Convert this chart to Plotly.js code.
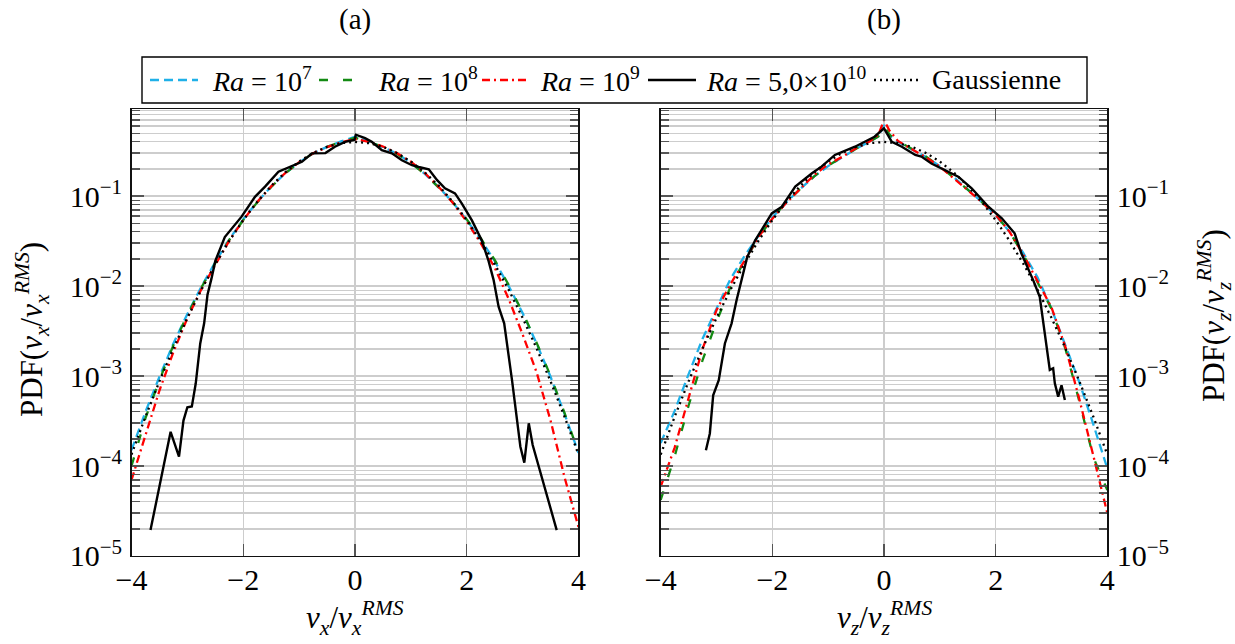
<!DOCTYPE html>
<html>
<head>
<meta charset="utf-8">
<script src="https://cdn.plot.ly/plotly-3.0.1.min.js"></script>
<style>html,body{margin:0;padding:0;background:#fff;} #chart{width:1235px;height:644px;}</style>
</head>
<body>
<div id="chart"></div>
<script>
// ---------- data ----------
const gridA = [-4,-3.75,-3.5,-3.25,-3,-2.75,-2.5,-2.25,-2,-1.75,-1.5,-1.25,-1,-0.75,-0.5,-0.25,0,0.25,0.5,0.75,1,1.25,1.5,1.75,2,2.25,2.5,2.75,3,3.25,3.5,3.75,4];
const gridB = [-4,-3.75,-3.5,-3.25,-3,-2.75,-2.5,-2.25,-2,-1.75,-1.5,-1.25,-1,-0.75,-0.5,-0.25,-0.1,0,0.1,0.25,0.5,0.75,1,1.25,1.5,1.75,2,2.25,2.5,2.75,3,3.25,3.5,3.75,4];

const gauss = [1.34e-4,3.53e-4,8.73e-4,2.03e-3,4.43e-3,9.09e-3,1.75e-2,3.17e-2,5.40e-2,8.63e-2,0.1295,0.1826,0.2420,0.3011,0.3521,0.3867,0.3989,0.3867,0.3521,0.3011,0.2420,0.1826,0.1295,8.63e-2,5.40e-2,3.17e-2,1.75e-2,9.09e-3,4.43e-3,2.03e-3,8.73e-4,3.53e-4,1.34e-4];

// panel (a): v_x
const a_Ra1e7 = [1.5e-4,4.0e-4,9.8e-4,2.3e-3,4.9e-3,9.8e-3,1.85e-2,3.3e-2,5.5e-2,8.6e-2,0.127,0.178,0.236,0.297,0.352,0.405,0.455,0.40,0.35,0.295,0.235,0.176,0.125,8.5e-2,5.4e-2,3.3e-2,1.9e-2,1.0e-2,5.0e-3,2.3e-3,9.8e-4,3.8e-4,1.4e-4];
const a_Ra1e8 = [1.0e-4,3.4e-4,9.0e-4,2.2e-3,4.8e-3,9.6e-3,1.8e-2,3.25e-2,5.4e-2,8.5e-2,0.126,0.178,0.236,0.298,0.352,0.40,0.445,0.40,0.35,0.294,0.234,0.175,0.124,8.5e-2,5.5e-2,3.4e-2,1.95e-2,1.03e-2,5.1e-3,2.35e-3,1.0e-3,3.9e-4,1.4e-4];
const a_Ra1e9 = [7e-5,2.2e-4,6.9e-4,1.85e-3,4.4e-3,9.2e-3,1.75e-2,3.2e-2,5.4e-2,8.6e-2,0.128,0.18,0.238,0.298,0.35,0.395,0.43,0.40,0.355,0.30,0.24,0.18,0.126,8.4e-2,5.2e-2,3.0e-2,1.6e-2,7.2e-3,2.9e-3,1.1e-3,3.2e-4,7.5e-5,2.1e-5];
const a_Ra5e10_x = [-3.66,-3.30,-3.15,-3.07,-3.0,-2.92,-2.85,-2.77,-2.70,-2.64,-2.57,-2.50,-2.33,-2.03,-1.79,-1.61,-1.37,-1.13,-0.95,-0.77,-0.53,-0.36,-0.18,-0.01,0.015,0.18,0.30,0.48,0.66,0.84,1.02,1.14,1.32,1.47,1.61,1.79,1.91,2.09,2.27,2.39,2.48,2.57,2.67,2.81,2.96,3.03,3.11,3.18,3.61];
const a_Ra5e10 = [1.94e-5,2.4e-4,1.27e-4,3.2e-4,4.5e-4,4.6e-4,8.3e-4,2.3e-3,3.85e-3,8.0e-3,1.2e-2,1.9e-2,3.5e-2,5.9e-2,9.8e-2,0.127,0.186,0.215,0.24,0.298,0.30,0.353,0.40,0.42,0.48,0.44,0.40,0.324,0.298,0.25,0.22,0.21,0.198,0.15,0.122,0.107,8.3e-2,5.4e-2,3.2e-2,1.9e-2,1.17e-2,5.9e-3,3.85e-3,9.0e-4,1.64e-4,1.09e-4,2.98e-4,1.71e-4,1.94e-5];

// panel (b): v_z
const b_Ra1e7 = [1.8e-4,4.1e-4,1.05e-3,2.6e-3,5.6e-3,1.2e-2,2.15e-2,3.6e-2,5.8e-2,8.5e-2,0.12,0.165,0.215,0.27,0.335,0.405,0.46,0.615,0.47,0.40,0.33,0.272,0.215,0.162,0.118,8.6e-2,6.1e-2,4.0e-2,2.3e-2,1.25e-2,5.6e-3,2.2e-3,8.5e-4,2.9e-4,9.4e-5];
const b_Ra1e8 = [4.2e-5,1.28e-4,4.7e-4,1.5e-3,4.0e-3,9.8e-3,1.9e-2,3.4e-2,5.7e-2,8.5e-2,0.12,0.165,0.218,0.272,0.335,0.405,0.46,0.60,0.48,0.405,0.335,0.275,0.215,0.16,0.118,8.6e-2,6.2e-2,4.0e-2,2.2e-2,1.1e-2,5.6e-3,2.0e-3,5.2e-4,1.25e-4,5.4e-5];
const b_Ra1e9 = [5.9e-5,1.6e-4,5.7e-4,2.0e-3,5.4e-3,1.05e-2,1.9e-2,3.5e-2,5.6e-2,8.4e-2,0.12,0.172,0.225,0.272,0.34,0.405,0.48,0.70,0.53,0.41,0.33,0.27,0.212,0.158,0.118,8.6e-2,6.2e-2,4.0e-2,2.2e-2,1.15e-2,5.8e-3,2.1e-3,5.5e-4,1.3e-4,3.0e-5];
const b_Ra5e10_x = [-3.19,-3.12,-3.06,-2.96,-2.85,-2.73,-2.64,-2.54,-2.45,-2.31,-2.01,-1.83,-1.59,-1.29,-1.12,-0.88,-0.52,-0.17,0,0.14,0.32,0.56,0.67,0.85,1.09,1.33,1.57,1.87,2.11,2.34,2.46,2.58,2.67,2.79,2.85,2.91,2.97,3.03,3.06,3.12,3.18,3.24];
const b_Ra5e10 = [1.5e-4,2.3e-4,6.1e-4,9.0e-4,2.3e-3,3.85e-3,7e-3,1.25e-2,2.1e-2,3.2e-2,6.4e-2,7.6e-2,0.127,0.179,0.212,0.286,0.353,0.456,0.565,0.40,0.353,0.286,0.274,0.23,0.195,0.164,0.122,7.6e-2,5.65e-2,3.85e-2,2.31e-2,1.6e-2,1.17e-2,7.6e-3,4.2e-3,2.1e-3,1.17e-3,1.22e-3,8.3e-4,5.9e-4,7.9e-4,5.4e-4];

// ticks & labels
const xTickVals = [-4,-2,0,2,4];
const xTickText = ['\u22124','\u22122','0','2','4'];
const yTickVals = [1e-5,1e-4,1e-3,1e-2,1e-1];
const yTickText = ['10<sup>\u22125</sup>','10<sup>\u22124</sup>','10<sup>\u22123</sup>','10<sup>\u22122</sup>','10<sup>\u22121</sup>'];
const yMinorVals = [2e-5,3e-5,4e-5,5e-5,6e-5,7e-5,8e-5,9e-5,2e-4,3e-4,4e-4,5e-4,6e-4,7e-4,8e-4,9e-4,2e-3,3e-3,4e-3,5e-3,6e-3,7e-3,8e-3,9e-3,2e-2,3e-2,4e-2,5e-2,6e-2,7e-2,8e-2,9e-2,0.2,0.3,0.4,0.5,0.6,0.7,0.8,0.9];
const legendNames = ['<i>Ra</i> = 10<sup>7</sup>','<i>Ra</i> = 10<sup>8</sup>','<i>Ra</i> = 10<sup>9</sup>','<i>Ra</i> = 5,0\u00d710<sup>10</sup>','Gaussienne'];

// ---------- styles ----------
const C7 = '#1fb0e8', C8 = '#138a13', C9 = '#ff0000', CB = '#000000';
const st = [
  {color:C7, width:2.3, dash:'9px,5px'},
  {color:C8, width:2.3, dash:'9px,15px'},
  {color:C9, width:2.3, dash:'8px,4px,2px,4px'},
  {color:CB, width:2.4, dash:'solid'},
  {color:CB, width:2.3, dash:'2px,4px'}
];

function tr(x, y, i, xa, ya){
  return {x:x, y:y, type:'scatter', mode:'lines', name:legendNames[i], line:st[i],
          xaxis:xa, yaxis:ya, showlegend:false, hoverinfo:'skip'};
}

const data = [
  tr(gridA, a_Ra1e7, 0, 'x','y'),
  tr(gridA, a_Ra1e8, 1, 'x','y'),
  tr(gridA, a_Ra1e9, 2, 'x','y'),
  tr(a_Ra5e10_x, a_Ra5e10, 3, 'x','y'),
  tr(gridA, gauss, 4, 'x','y'),
  tr(gridB, b_Ra1e7, 0, 'x2','y2'),
  tr(gridB, b_Ra1e8, 1, 'x2','y2'),
  tr(gridB, b_Ra1e9, 2, 'x2','y2'),
  tr(b_Ra5e10_x, b_Ra5e10, 3, 'x2','y2'),
  tr(gridA, gauss, 4, 'x2','y2')
];

const FONT = '"Liberation Serif", "Times New Roman", serif';
const GRID = '#cdcdcd', TICKC = '#555555';
const W = 1235, H = 644;
const px = v => v / W, py = v => 1 - v / H;

function xAxis(dom, anchor){
  return {domain:dom, anchor:anchor, range:[-4,4], tickmode:'array', tickvals:xTickVals, ticktext:xTickText,
    ticks:'inside', ticklen:12, tickwidth:1.2, tickcolor:TICKC, mirror:'allticks',
    showline:true, linecolor:'#111', linewidth:1.4, showgrid:true, gridcolor:GRID, gridwidth:1.2,
    zeroline:false, tickfont:{size:30, family:FONT}, ticklabelstandoff:-3, fixedrange:true};
}
function yAxis(dom, anchor, side){
  return {domain:dom, anchor:anchor, side:side, type:'log', range:[-5,-0.033], tickmode:'array',
    tickvals:yTickVals, ticktext:yTickText,
    ticks:'inside', ticklen:12, tickwidth:1.2, tickcolor:TICKC, mirror:'allticks',
    minor:{tickmode:'array', tickvals:yMinorVals, ticks:'inside', ticklen:8, tickwidth:1.2, tickcolor:TICKC,
           showgrid:true, gridcolor:GRID, gridwidth:1.2},
    showline:true, linecolor:'#111', linewidth:1.4, showgrid:true, gridcolor:GRID, gridwidth:1.2,
    zeroline:false, tickfont:{size:30, family:FONT}, ticklabelstandoff:2, fixedrange:true};
}

// manual legend (box, line samples, labels)
const legSamples = [[150,198],[319,367],[482,530],[648,696],[874,922]];
const legTextX = [210, 376, 538, 704, 930];
const legY = 80;
const shapes = [
  {type:'rect', xref:'paper', yref:'paper', x0:px(142), x1:px(1087), y0:py(103), y1:py(57),
   line:{color:'#000', width:1.4}, fillcolor:'rgba(255,255,255,1)', layer:'above'}
];
legSamples.forEach((s,i)=>{
  shapes.push({type:'line', xref:'paper', yref:'paper', x0:px(s[0]), x1:px(s[1]), y0:py(legY), y1:py(legY),
    line:{color:st[i].color, width:st[i].width, dash:st[i].dash}, layer:'above'});
});

const annotations = [
  {text:'(a)', xref:'paper', yref:'paper', x:0.28745, y:py(20), xanchor:'center', yanchor:'middle', showarrow:false, font:{size:29}},
  {text:'(b)', xref:'paper', yref:'paper', x:0.71579, y:py(20), xanchor:'center', yanchor:'middle', showarrow:false, font:{size:29}},
  {text:'<i>v<sub>x</sub></i>/<i>v<sub>x</sub><sup>RMS</sup></i>', xref:'paper', yref:'paper', x:0.28745, y:py(618), xanchor:'center', yanchor:'middle', showarrow:false, font:{size:31}},
  {text:'<i>v<sub>z</sub></i>/<i>v<sub>z</sub><sup>RMS</sup></i>', xref:'paper', yref:'paper', x:0.71579, y:py(618), xanchor:'center', yanchor:'middle', showarrow:false, font:{size:31}},
  {text:'PDF(<i>v<sub>x</sub></i>/<i>v<sub>x</sub><sup>RMS</sup></i>)', xref:'paper', yref:'paper', x:px(32), y:py(330), xanchor:'center', yanchor:'middle', textangle:-90, showarrow:false, font:{size:31}},
  {text:'PDF(<i>v<sub>z</sub></i>/<i>v<sub>z</sub><sup>RMS</sup></i>)', xref:'paper', yref:'paper', x:px(1214), y:py(316), xanchor:'center', yanchor:'middle', textangle:-90, showarrow:false, font:{size:31}}
];
legendNames.forEach((t,i)=>{
  annotations.push({text:t, xref:'paper', yref:'paper', x:px(legTextX[i]), y:py(legY-1), xanchor:'left', yanchor:'middle',
    showarrow:false, font:{size:28}});
});

const yDom = [0.13665, 0.83075];
const layout = {
  width:W, height:H,
  margin:{l:0, r:0, t:0, b:0, pad:0},
  paper_bgcolor:'#ffffff', plot_bgcolor:'#ffffff',
  font:{family:FONT, size:29, color:'#000'},
  showlegend:false,
  xaxis: xAxis([0.10648, 0.46842], 'y'),
  yaxis: yAxis(yDom, 'x', 'left'),
  xaxis2: xAxis([0.53498, 0.89660], 'y2'),
  yaxis2: yAxis(yDom, 'x2', 'right'),
  shapes: shapes,
  annotations: annotations
};

Plotly.newPlot('chart', data, layout, {displayModeBar:false, staticPlot:true});
</script>
</body>
</html>
